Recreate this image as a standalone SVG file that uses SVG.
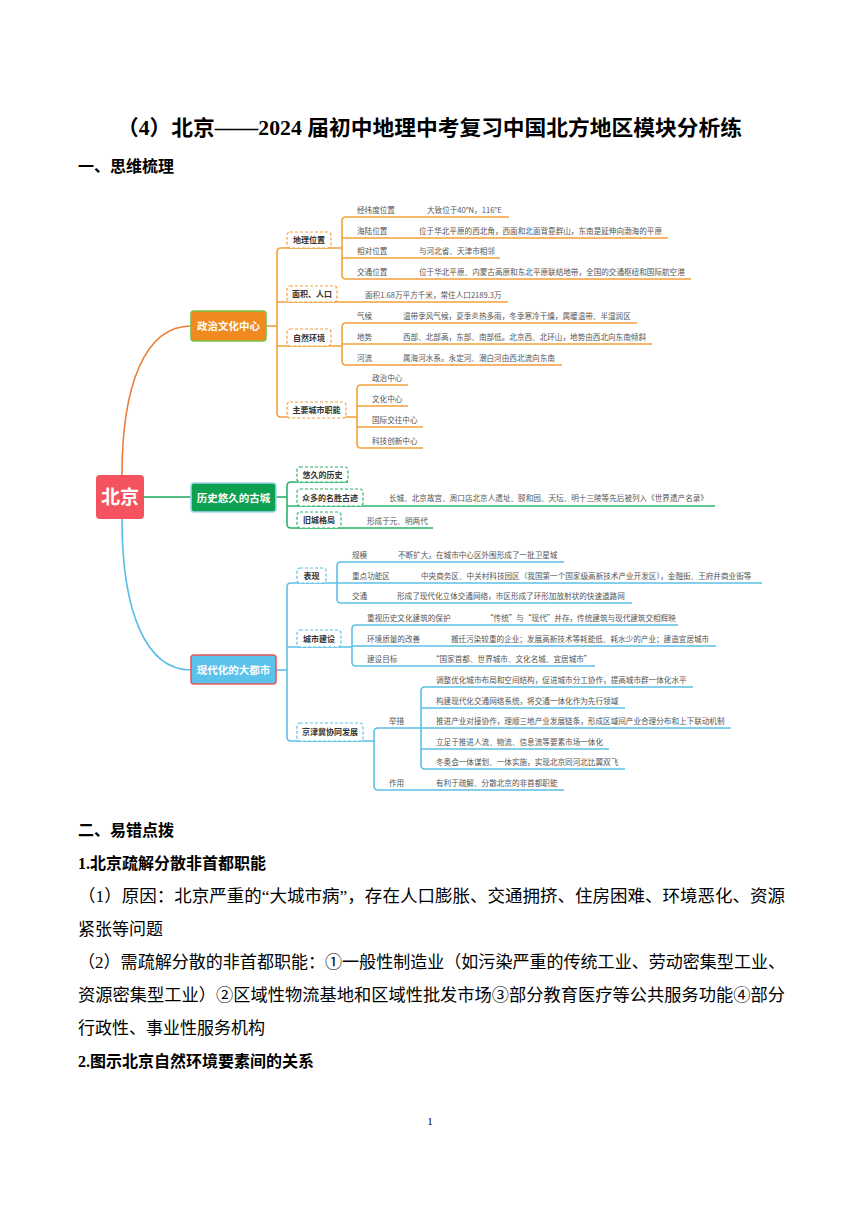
<svg xmlns="http://www.w3.org/2000/svg" width="860" height="1216" viewBox="0 0 860 1216">
<style>
.pg{font-family:"Liberation Serif","Noto Sans CJK SC",serif;fill:#000}
.h{font-weight:bold;font-size:16px}
.b{font-size:17px}
.mm{font-family:"Noto Sans CJK SC","Noto Sans",sans-serif}
.t{font-size:7.6px;fill:#555}
.sn{font-size:8px;font-weight:bold;fill:#333}
.mn{font-size:10.5px;font-weight:bold;fill:#fff}
.o{stroke:#f3a03c;fill:none;stroke-width:1.6}
.g{stroke:#2bb36a;fill:none;stroke-width:1.6}
.bl{stroke:#5bc0e6;fill:none;stroke-width:1.6}
.so{fill:#fff;stroke:#f3a03c;stroke-width:1.2;stroke-dasharray:3 2}
.sg{fill:#fff;stroke:#2bb36a;stroke-width:1.2;stroke-dasharray:3 2}
.sb{fill:#fff;stroke:#5bc0e6;stroke-width:1.2;stroke-dasharray:3 2}
</style>
<rect width="860" height="1216" fill="#fff"/>
<text class="pg" x="117" y="135" font-size="21" font-weight="bold" textLength="625" lengthAdjust="spacingAndGlyphs">（4）北京——2024 届初中地理中考复习中国北方地区模块分析练</text>
<text class="pg h" x="78" y="172">一、思维梳理</text>

<g id="connectors">
<path d="M122,475 C122,385 145,326 191,326" fill="none" stroke="#ec7d3c" stroke-width="1.6"/>
<path d="M144,497 L191,497" fill="none" stroke="#1aa85a" stroke-width="1.6"/>
<path d="M122,519 C122,610 145,670 191,670" fill="none" stroke="#58bce8" stroke-width="1.6"/>
<!-- orange -->
<path class="o" d="M266,326 L277,326"/>
<path class="o" d="M342,248 L281,248 Q277,248 277,252 L277,413 Q277,417 281,417 L357,417"/>
<path class="o" d="M277,302 L508,302"/>
<path class="o" d="M277,346 L342,346"/>
<path class="o" d="M509,217 L346,217 Q342,217 342,221 L342,275 Q342,279 346,279 L691,279"/>
<path class="o" d="M342,238 L668,238 M342,258 L500,258"/>
<path class="o" d="M637,323 L346,323 Q342,323 342,327 L342,361 Q342,365 346,365 L562,365"/>
<path class="o" d="M342,344 L652,344"/>
<path class="o" d="M408,385 L361,385 Q357,385 357,389 L357,444 Q357,448 361,448 L423,448"/>
<path class="o" d="M357,406 L408,406 M357,427 L423,427"/>
<!-- green -->
<path class="g" d="M276,497 L287,497"/>
<path class="g" d="M348,482 L291,482 Q287,482 287,486 L287,524 Q287,528 291,528 L433,528"/>
<path class="g" d="M287,506 L715,506"/>
<!-- blue -->
<path class="bl" d="M276,670 L287,670"/>
<path class="bl" d="M337,583 L291,583 Q287,583 287,587 L287,737 Q287,741 291,741 L374,741"/>
<path class="bl" d="M287,647 L352,647"/>
<path class="bl" d="M564,562 L341,562 Q337,562 337,566 L337,599 Q337,603 341,603 L632,603"/>
<path class="bl" d="M337,583 L762,583"/>
<path class="bl" d="M678,625 L356,625 Q352,625 352,629 L352,662 Q352,666 356,666 L595,666"/>
<path class="bl" d="M352,646 L716,646"/>
<path class="bl" d="M421,728 L378,728 Q374,728 374,732 L374,786 Q374,790 378,790 L564,790"/>
<path class="bl" d="M693,687 L425,687 Q421,687 421,691 L421,765 Q421,769 425,769 L625,769"/>
<path class="bl" d="M421,708 L625,708 M421,728 L731,728 M421,749 L609,749"/>
</g>

<g id="root" class="mm">
<rect x="96" y="475" width="48" height="44" rx="4" fill="#f5525f"/>
<text x="120" y="504" font-size="19" font-weight="bold" fill="#fff" text-anchor="middle">北京</text>
</g>

<g id="n-politics" class="mm">
<rect x="191" y="311" width="75" height="30" rx="3" fill="#f08a1e" stroke="#7ac143" stroke-width="1.6"/>
<text class="mn" x="228.5" y="330" text-anchor="middle">政治文化中心</text>
</g>
<g id="n-history" class="mm">
<rect x="191" y="483" width="85" height="29" rx="3" fill="#0ba150" stroke="#a5d6f2" stroke-width="1.6"/>
<text class="mn" x="233.5" y="501.5" text-anchor="middle">历史悠久的古城</text>
</g>
<g id="n-modern" class="mm">
<rect x="191" y="655" width="85" height="29" rx="3" fill="#5bc2ec" stroke="#e8575a" stroke-width="1.6"/>
<text class="mn" x="233.5" y="673.5" text-anchor="middle">现代化的大都市</text>
</g>

<g id="n-location" class="mm">
<rect class="so" x="287" y="232" width="44" height="16" rx="3"/>
<text class="sn" x="309" y="243" text-anchor="middle">地理位置</text>
<text class="t" x="357" y="213">经纬度位置</text><text class="t" x="427" y="213">大致位于40°N，116°E</text>
<text class="t" x="357" y="234">海陆位置</text><text class="t" x="419" y="234">位于华北平原的西北角，西面和北面背靠群山，东南是延伸向渤海的平原</text>
<text class="t" x="357" y="254">相对位置</text><text class="t" x="419" y="254">与河北省、天津市相邻</text>
<text class="t" x="357" y="275">交通位置</text><text class="t" x="419" y="275">位于华北平原、内蒙古高原和东北平原联结地带，全国的交通枢纽和国际航空港</text>
</g>
<g id="n-area" class="mm">
<rect class="so" x="287" y="286" width="50" height="16" rx="3"/>
<text class="sn" x="312" y="297" text-anchor="middle">面积、人口</text>
<text class="t" x="365" y="298">面积1.68万平方千米，常住人口2189.3万</text>
</g>
<g id="n-nature" class="mm">
<rect class="so" x="287" y="329" width="44" height="17" rx="3"/>
<text class="sn" x="309" y="340.5" text-anchor="middle">自然环境</text>
<text class="t" x="357" y="319">气候</text><text class="t" x="403" y="319">温带季风气候，夏季炎热多雨，冬季寒冷干燥，属暖温带、半湿润区</text>
<text class="t" x="357" y="340">地势</text><text class="t" x="403" y="340">西部、北部高，东部、南部低。北京西、北环山，地势由西北向东南倾斜</text>
<text class="t" x="357" y="361">河流</text><text class="t" x="403" y="361">属海河水系。永定河、潮白河由西北流向东南</text>
</g>
<g id="n-function" class="mm">
<rect class="so" x="287" y="402" width="59" height="16" rx="3"/>
<text class="sn" x="316.5" y="413" text-anchor="middle">主要城市职能</text>
<text class="t" x="372" y="381">政治中心</text>
<text class="t" x="372" y="402">文化中心</text>
<text class="t" x="372" y="423">国际交往中心</text>
<text class="t" x="372" y="444">科技创新中心</text>
</g>

<g id="n-long" class="mm">
<rect class="sg" x="297" y="467" width="51" height="15" rx="3"/>
<text class="sn" x="322.5" y="477.5" text-anchor="middle">悠久的历史</text>
</g>
<g id="n-sites" class="mm">
<rect class="sg" x="297" y="489" width="66" height="17" rx="3"/>
<text class="sn" x="330" y="500.5" text-anchor="middle">众多的名胜古迹</text>
<text class="t" x="389" y="501">长城、北京故宫、周口店北京人遗址、颐和园、天坛、明十三陵等先后被列入《世界遗产名录》</text>
</g>
<g id="n-old" class="mm">
<rect class="sg" x="297" y="512" width="44" height="16" rx="3"/>
<text class="sn" x="319" y="523" text-anchor="middle">旧城格局</text>
<text class="t" x="367" y="524">形成于元、明两代</text>
</g>

<g id="n-show" class="mm">
<rect class="sb" x="297" y="568" width="29" height="15" rx="3"/>
<text class="sn" x="311.5" y="578.5" text-anchor="middle">表现</text>
<text class="t" x="352" y="558">规模</text><text class="t" x="398" y="558">不断扩大，在城市中心区外围形成了一批卫星城</text>
<text class="t" x="352" y="579">重点功能区</text><text class="t" x="421" y="579">中央商务区、中关村科技园区（我国第一个国家级高新技术产业开发区），金融街、王府井商业街等</text>
<text class="t" x="352" y="599">交通</text><text class="t" x="397" y="599">形成了现代化立体交通网络，市区形成了环形加放射状的快速道路网</text>
</g>
<g id="n-build" class="mm">
<rect class="sb" x="297" y="630" width="44" height="17" rx="3"/>
<text class="sn" x="319" y="641.5" text-anchor="middle">城市建设</text>
<text class="t" x="367" y="621">重视历史文化建筑的保护</text><text class="t" x="486" y="621">“传统”与“现代”并存，传统建筑与现代建筑交相辉映</text>
<text class="t" x="367" y="642">环境质量的改善</text><text class="t" x="451" y="642">搬迁污染较重的企业；发展高新技术等耗能低、耗水少的产业；建造宜居城市</text>
<text class="t" x="367" y="662">建设目标</text><text class="t" x="432" y="662">“国家首都、世界城市、文化名城、宜居城市”</text>
</g>
<g id="n-jjj" class="mm">
<rect class="sb" x="297" y="723" width="66" height="18" rx="3"/>
<text class="sn" x="330" y="735" text-anchor="middle">京津冀协同发展</text>
<text class="t" x="389" y="724">举措</text>
<text class="t" x="436" y="683">调整优化城市布局和空间结构，促进城市分工协作，提高城市群一体化水平</text>
<text class="t" x="436" y="704">构建现代化交通网络系统，将交通一体化作为先行领域</text>
<text class="t" x="436" y="724">推进产业对接协作，理顺三地产业发展链条，形成区域间产业合理分布和上下联动机制</text>
<text class="t" x="436" y="745">立足于推进人流、物流、信息流等要素市场一体化</text>
<text class="t" x="436" y="765">冬奥会一体谋划、一体实施，实现北京同河北比翼双飞</text>
<text class="t" x="389" y="786">作用</text>
<text class="t" x="436" y="786">有利于疏解、分散北京的非首都职能</text>
</g>

<text class="pg h" x="78" y="836">二、易错点拨</text>
<text class="pg h" x="78" y="869" font-size="17">1.北京疏解分散非首都职能</text>
<text class="pg b" x="78" y="902" textLength="707" lengthAdjust="spacingAndGlyphs">（1）原因：北京严重的“大城市病”，存在人口膨胀、交通拥挤、住房困难、环境恶化、资源</text>
<text class="pg b" x="78" y="935">紧张等问题</text>
<text class="pg b" x="78" y="968" textLength="707" lengthAdjust="spacingAndGlyphs">（2）需疏解分散的非首都职能：①一般性制造业（如污染严重的传统工业、劳动密集型工业、</text>
<text class="pg b" x="78" y="1001" textLength="707" lengthAdjust="spacingAndGlyphs">资源密集型工业）②区域性物流基地和区域性批发市场③部分教育医疗等公共服务功能④部分</text>
<text class="pg b" x="78" y="1034">行政性、事业性服务机构</text>
<text class="pg h" x="78" y="1067" font-size="17">2.图示北京自然环境要素间的关系</text>
<text class="pg" x="430" y="1125" font-size="11" text-anchor="middle">1</text>
</svg>
